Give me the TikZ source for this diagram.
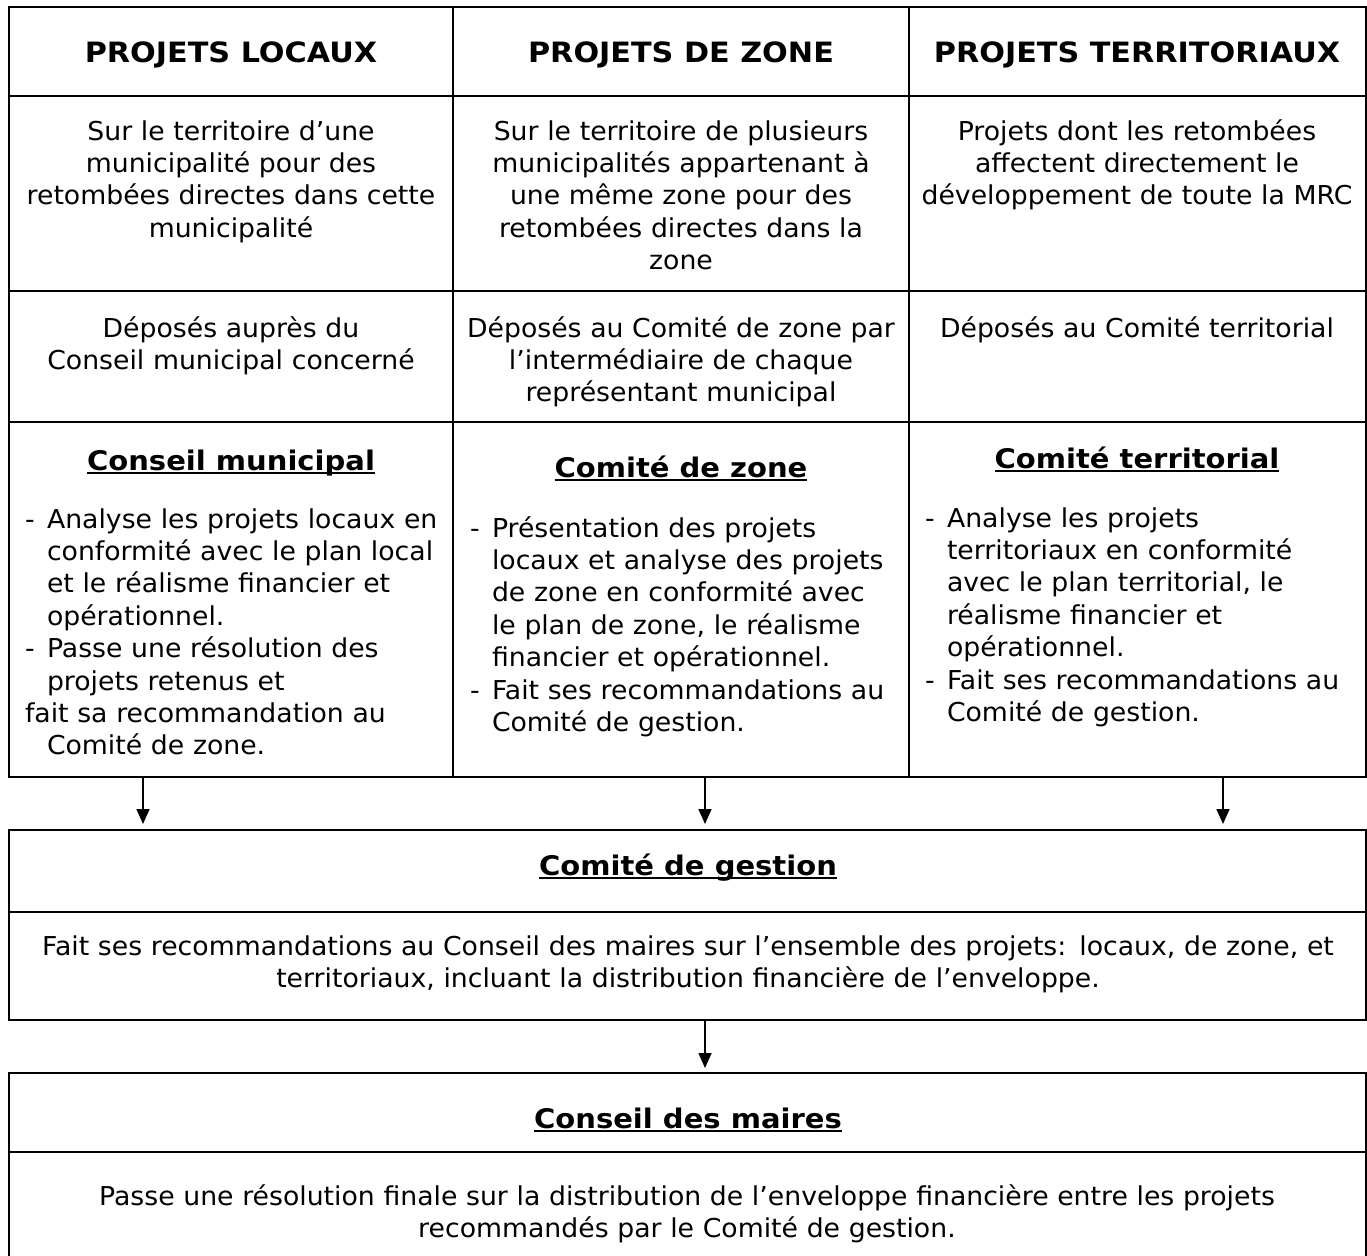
\documentclass[tikz,border=0pt]{standalone}
\usepackage{fontspec}
\setmainfont{DejaVu Sans}
\newfontfamily\bodyfont[FakeStretch=1.027]{DejaVu Sans}
\newfontfamily\titlefont[FakeStretch=1.075]{DejaVu Sans Bold}
\newfontfamily\headfont[FakeStretch=1.08]{DejaVu Sans Bold}
\usetikzlibrary{arrows.meta}
\newcommand\myul[1]{\setbox0\hbox{#1}\rlap{\rule[-4pt]{\wd0}{2pt}}\box0}
\begin{document}
\begin{tikzpicture}[x=1pt,y=-1pt,
  cell/.style={draw, line width=2.6pt, anchor=north west, inner sep=0pt, outer sep=0pt},
  body/.style={font=\bodyfont\fontsize{26}{32.4}\selectfont, inner sep=0pt, outer sep=0pt},
  hdr/.style={font=\headfont\fontsize{28}{32.4}\selectfont, inner sep=0pt, outer sep=0pt},
  ttl/.style={font=\titlefont\fontsize{27}{32.4}\selectfont, inner sep=0pt, outer sep=0pt},
  ctext/.style={body, anchor=base, text width=445pt, align=center},
  ltext/.style={body, anchor=base west, text width=435pt, align=left},
  arr/.style={line width=1.6pt, -{Triangle[length=15pt,width=13pt]}}]
\useasboundingbox (0,0) rectangle (1367,1255);
\fill[white] (0,0) rectangle (1367,1255);
% table cells
\node[cell, minimum width=444pt, minimum height=89pt] (c11) at (9,7) {};
\node[cell, minimum width=456pt, minimum height=89pt] (c12) at (453,7) {};
\node[cell, minimum width=457pt, minimum height=89pt] (c13) at (909,7) {};
\node[cell, minimum width=444pt, minimum height=195pt] (c21) at (9,96) {};
\node[cell, minimum width=456pt, minimum height=195pt] (c22) at (453,96) {};
\node[cell, minimum width=457pt, minimum height=195pt] (c23) at (909,96) {};
\node[cell, minimum width=444pt, minimum height=131pt] (c31) at (9,291) {};
\node[cell, minimum width=456pt, minimum height=131pt] (c32) at (453,291) {};
\node[cell, minimum width=457pt, minimum height=131pt] (c33) at (909,291) {};
\node[cell, minimum width=444pt, minimum height=355pt] (c41) at (9,422) {};
\node[cell, minimum width=456pt, minimum height=355pt] (c42) at (453,422) {};
\node[cell, minimum width=457pt, minimum height=355pt] (c43) at (909,422) {};
% bottom boxes
\node[cell, minimum width=1357pt, minimum height=82pt] (g1) at (9,830) {};
\node[cell, minimum width=1357pt, minimum height=108pt] (g2) at (9,912) {};
\node[cell, minimum width=1357pt, minimum height=79pt] (m1) at (9,1073) {};
\node[cell, minimum width=1357pt, minimum height=120pt] (m2) at (9,1152) {};
% headers
\node[hdr, anchor=base] (h1) at (231,63) {PROJETS LOCAUX};
\node[hdr, anchor=base] (h2) at (681,63) {PROJETS DE ZONE};
\node[hdr, anchor=base] (h3) at (1137,63) {PROJETS TERRITORIAUX};
% row 2
\node[ctext] (t21) at (231,140) {Sur le territoire d’une\\municipalité pour des\\retombées directes dans cette\\municipalité};
\node[ctext] (t22) at (681,140) {Sur le territoire de plusieurs\\municipalités appartenant à\\une même zone pour des\\retombées directes dans la\\zone};
\node[ctext] (t23) at (1137,140) {Projets dont les retombées\\affectent directement le\\développement de toute la MRC};
% row 3
\node[ctext] (t31) at (231,337) {Déposés auprès du\\Conseil municipal concerné};
\node[ctext] (t32) at (681,337) {Déposés au Comité de zone par\\l’intermédiaire de chaque\\représentant municipal};
\node[ctext] (t33) at (1137,337) {Déposés au Comité territorial};
% row 4 titles
\node[ttl, anchor=base] (s1) at (231,470) {\myul{Conseil municipal}};
\node[ttl, anchor=base] (s2) at (681,477) {\myul{Comité de zone}};
\node[ttl, anchor=base] (s3) at (1137,468) {\myul{Comité territorial}};
% row 4 lists
\node[ltext] (l1) at (25,528) {\makebox[22pt][l]{-}Analyse les projets locaux en\\
\hspace*{22pt}conformité avec le plan local\\
\hspace*{22pt}et le réalisme financier et\\
\hspace*{22pt}opérationnel.\\
\makebox[22pt][l]{-}Passe une résolution des\\
\hspace*{22pt}projets retenus et\\
fait sa recommandation au\\
\hspace*{22pt}Comité de zone.};
\node[ltext] (l2) at (470,537) {\makebox[22pt][l]{-}Présentation des projets\\
\hspace*{22pt}locaux et analyse des projets\\
\hspace*{22pt}de zone en conformité avec\\
\hspace*{22pt}le plan de zone, le réalisme\\
\hspace*{22pt}financier et opérationnel.\\
\makebox[22pt][l]{-}Fait ses recommandations au\\
\hspace*{22pt}Comité de gestion.};
\node[ltext] (l3) at (925,527) {\makebox[22pt][l]{-}Analyse les projets\\
\hspace*{22pt}territoriaux en conformité\\
\hspace*{22pt}avec le plan territorial, le\\
\hspace*{22pt}réalisme financier et\\
\hspace*{22pt}opérationnel.\\
\makebox[22pt][l]{-}Fait ses recommandations au\\
\hspace*{22pt}Comité de gestion.};
% bottom texts
\node[ttl, anchor=base] (gt) at (688,875) {\myul{Comité de gestion}};
\node[body, anchor=base, text width=1350pt, align=center] (gb) at (688,955) {Fait ses recommandations au Conseil des maires sur l’ensemble des projets: locaux, de zone, et\\territoriaux, incluant la distribution financière de l’enveloppe.};
\node[ttl, anchor=base] (mt) at (688,1128) {\myul{Conseil des maires}};
\node[body, anchor=base, text width=1350pt, align=center] (mb) at (687,1205) {Passe une résolution finale sur la distribution de l’enveloppe financière entre les projets\\recommandés par le Comité de gestion.};
% arrows
\coordinate (a1) at ([xshift=134pt]c41.south west);
\coordinate (a2) at ([xshift=252pt]c42.south west);
\coordinate (a3) at ([xshift=314pt]c43.south west);
\coordinate (a4) at ([xshift=696pt]g2.south west);
\draw[arr, shorten >=6pt] (a1) -- (a1 |- g1.north);
\draw[arr, shorten >=6pt] (a2) -- (a2 |- g1.north);
\draw[arr, shorten >=6pt] (a3) -- (a3 |- g1.north);
\draw[arr, shorten >=5pt] (a4) -- (a4 |- m1.north);
\end{tikzpicture}
\end{document}
